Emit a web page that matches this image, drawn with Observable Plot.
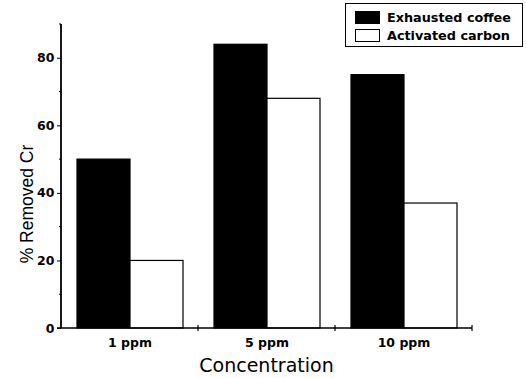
<!DOCTYPE html>
<html>
<head>
<meta charset="utf-8">
<script src="https://cdn.jsdelivr.net/npm/d3@7"></script>
<script src="https://cdn.jsdelivr.net/npm/@observablehq/plot@0.6"></script>
<style>
  html, body { margin: 0; padding: 0; background: #fff; }
  #chart { position: relative; width: 526px; height: 378px; }
  svg { display: block; }
</style>
</head>
<body>
<div id="chart"></div>
<script>
// Chromium removal at three concentrations, two adsorbents
const concentrations = ["1 ppm", "5 ppm", "10 ppm"];
const series = ["Exhausted coffee", "Activated carbon"];
const exhaustedCoffee = [50, 84, 75];
const activatedCarbon = [20, 68, 37];
const seriesFills = ["#000000", "#ffffff"];
const yTicks = [0, 20, 40, 60, 80];
const yMinorTicks = [10, 30, 50, 70, 90];
const yTitle = "% Removed Cr";
const xTitle = "Concentration";

const valuesBySeries = [exhaustedCoffee, activatedCarbon];
const rows = [];
concentrations.forEach((c, i) => {
  series.forEach((s, j) => {
    rows.push({concentration: c, series: s, value: valuesBySeries[j][i]});
  });
});

const chart = Plot.plot({
  width: 526,
  height: 378,
  marginLeft: 61,
  marginRight: 54,
  marginTop: 24,
  marginBottom: 50,
  style: {
    fontFamily: "'DejaVu Sans', sans-serif",
    fontSize: "12.5px",
    fontWeight: "bold",
    color: "black",
    background: "white",
    overflow: "visible"
  },
  facet: {data: rows, x: "concentration"},
  fx: {domain: concentrations, padding: 0, label: null, tickSize: 0, tickPadding: 10, axis: "bottom"},
  x: {domain: series, paddingInner: 0, paddingOuter: 0.27, axis: null},
  y: {domain: [0, 90], ticks: yTicks, tickSize: 4, tickPadding: 3, label: null},
  color: {domain: series, range: seriesFills},
  marks: [
    Plot.barY(rows, {x: "series", y: "value", fill: "series", stroke: "black", strokeWidth: 1.2})
  ]
});

document.getElementById("chart").appendChild(chart);

// Axis lines, minor ticks, titles and legend drawn with the plot's own scales
const svg = d3.select(chart);
const yDesc = chart.scale("y");
const y = d3.scaleLinear(yDesc.domain, yDesc.range);
const fxDesc = chart.scale("fx");
const fx = d3.scaleBand(fxDesc.domain, fxDesc.range)
  .paddingInner(fxDesc.paddingInner ?? 0)
  .paddingOuter(fxDesc.paddingOuter ?? 0)
  .align(fxDesc.align ?? 0.5);
const x0 = fx.range()[0];
const xEnd = fx(concentrations[concentrations.length - 1]) + fx.bandwidth();
const bounds = [x0, ...concentrations.map(c => fx(c) + fx.bandwidth())];

const axes = svg.append("g").attr("stroke", "black").attr("fill", "none");
axes.append("line")
  .attr("x1", x0).attr("x2", x0)
  .attr("y1", y(0) + 0.5).attr("y2", y(90))
  .attr("stroke-width", 1.8);
axes.append("line")
  .attr("x1", x0 - 4).attr("x2", xEnd)
  .attr("y1", y(0)).attr("y2", y(0))
  .attr("stroke-width", 1.5);
axes.selectAll(".bx").data(bounds.slice(1)).join("line")
  .attr("x1", d => d).attr("x2", d => d)
  .attr("y1", y(0) - 3).attr("y2", y(0) + 3)
  .attr("stroke-width", 1.2);
axes.selectAll(".my").data(yMinorTicks).join("line")
  .attr("x1", x0 - 2).attr("x2", x0)
  .attr("y1", d => y(d)).attr("y2", d => y(d))
  .attr("stroke-width", 1);

svg.append("text")
  .attr("transform", `translate(${x0 - 34},${y(0) - 124}) rotate(-90)`)
  .attr("text-anchor", "middle")
  .attr("dominant-baseline", "central")
  .style("font-family", "'Liberation Sans', Arial, sans-serif")
  .style("font-weight", "normal")
  .style("font-size", "17.5px")
  .attr("fill", "black")
  .text(yTitle);

svg.append("text")
  .attr("x", (x0 + xEnd) / 2)
  .attr("y", 372)
  .attr("text-anchor", "middle")
  .style("font-family", "'DejaVu Sans', sans-serif")
  .style("font-weight", "normal")
  .style("font-size", "19px")
  .attr("fill", "black")
  .text(xTitle);

const legend = svg.append("g");
legend.append("rect")
  .attr("x", 345.5).attr("y", 3.5).attr("width", 177).attr("height", 43)
  .attr("fill", "white").attr("stroke", "black").attr("stroke-width", 1);
const item = legend.selectAll(".item").data(series).join("g")
  .attr("transform", (d, i) => `translate(0,${i * 18})`);
item.append("rect")
  .attr("x", 355.5).attr("y", 11.5).attr("width", 24).attr("height", 12)
  .attr("fill", (d, i) => seriesFills[i]).attr("stroke", "black").attr("stroke-width", 1);
item.append("text")
  .attr("x", 387).attr("y", 17.5)
  .attr("text-anchor", "start")
  .attr("dominant-baseline", "central")
  .style("font-size", "12.8px")
  .attr("fill", "black")
  .text(d => d);
</script>
</body>
</html>
